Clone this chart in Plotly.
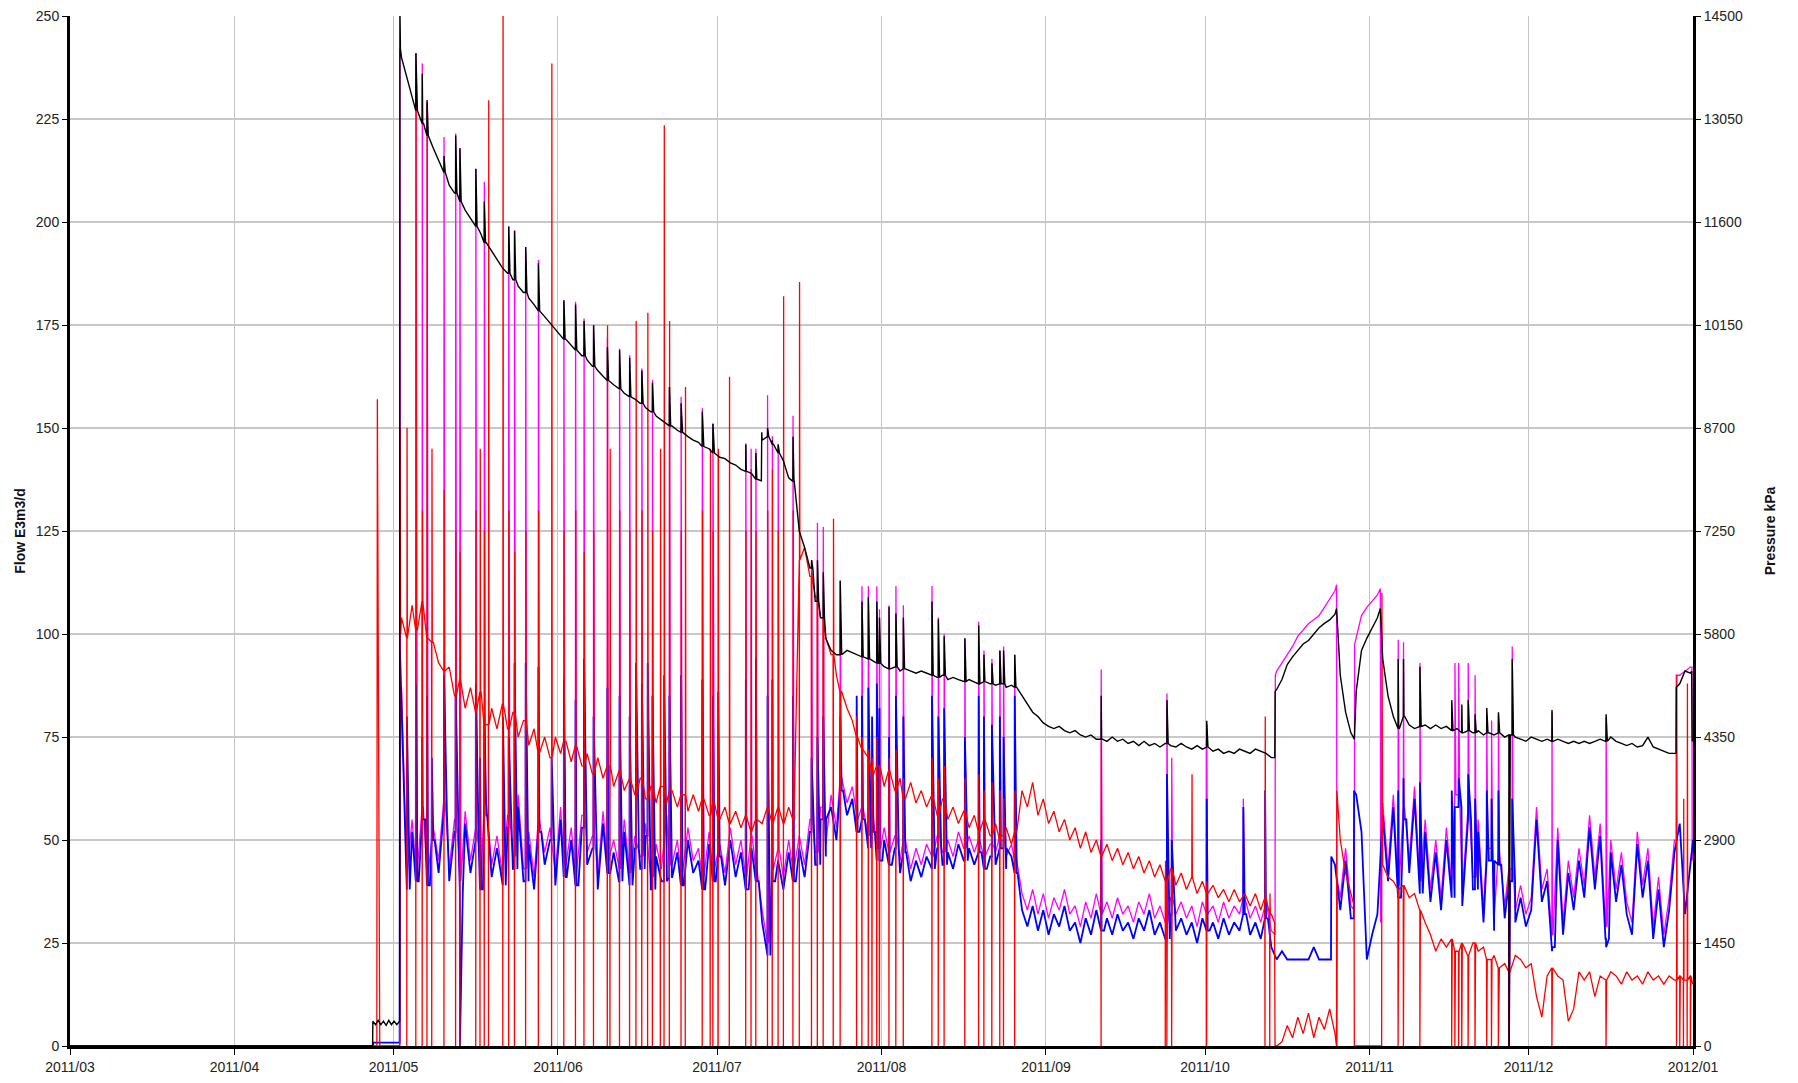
import pandas as pd
import plotly.graph_objects as go

START = pd.Timestamp("2011-05-01")   # day 0 of the day offsets below
N_DAYS = 244                          # daily samples at noon, 2011-05-02 .. 2011-12-31

X_TICK_START = "2011-03-01"
X_TICK_END = "2012-01-01"
FLOW_MAX = 250
PRESSURE_MAX = 14500

# ---------------- daily values (index k = 1..244, sample time = May 1 + k + 0.5 d) ----------------
# Flow (red), E3m3/d
RED_DAILY = [
    104, 99, 107, 101, 108, 99, 98, 93, 91, 92,
    85, 89, 82, 87, 81, 86, 78, 82, 77, 83,
    77, 81, 75, 79, 73, 77, 71, 75, 70, 75,
    71, 74, 69, 73, 68, 71, 66, 70, 65, 68,
    63, 67, 62, 65, 61, 65, 60, 63, 59, 63,
    59, 62, 58, 61, 57, 61, 57, 60, 56, 59,
    55, 58, 54, 57, 53, 56, 52, 55, 54, 58,
    54, 58, 54, 58, 55, 118, 121, 114, 109, 104,
    99, 95, 90, 86, 82, 79, 75, 72, 70, 66,
    68, 63, 67, 62, 65, 60, 64, 59, 62, 58,
    61, 56, 60, 55, 58, 54, 57, 53, 56, 52,
    55, 51, 54, 50, 53, 49, 52, 62, 58, 64,
    56, 60, 54, 57, 52, 55, 50, 53, 48, 52,
    47, 50, 46, 49, 45, 48, 44, 47, 43, 46,
    42, 45, 41, 44, 40, 43, 39, 42, 38, 41,
    37, 40, 37, 39, 36, 38, 35, 38, 35, 37,
    34, 37, 33, 36, 32, 0, 1, 5, 2, 7,
    3, 8, 2, 7, 4, 9, 3, 50, 42, 37,
    0, 0, 0, 0, 0, 44, 41, 40, 38, 39,
    36, 37, 33, 30, 27, 23, 26, 24, 26, 23,
    25, 22, 25, 23, 24, 21, 22, 19, 20, 18,
    22, 21, 19, 20, 12, 7, 17, 19, 17, 16,
    6, 9, 18, 16, 18, 12, 17, 16, 18, 17,
    15, 18, 16, 17, 15, 18, 16, 17, 15, 17,
    16, 17, 16, 17,
]

# Blue series, E3m3/d
BLUE_DAILY = [
    84, 38, 52, 40, 55, 39, 50, 42, 57, 40,
    52, 37, 54, 42, 50, 38, 56, 41, 48, 39,
    53, 43, 58, 40, 49, 38, 52, 44, 50, 39,
    55, 41, 50, 39, 53, 44, 48, 38, 54, 42,
    47, 40, 52, 39, 48, 43, 51, 38, 46, 40,
    53, 41, 47, 39, 50, 42, 45, 38, 49, 40,
    46, 39, 50, 41, 47, 38, 48, 40, 30, 22,
    40, 45, 38, 47, 40, 48, 41, 52, 44, 55,
    46, 58, 50, 62, 56, 60, 52, 55, 48, 52,
    45, 50, 44, 48, 42, 47, 40, 45, 41, 46,
    43, 48, 44, 47, 43, 49, 45, 48, 44, 47,
    43, 46, 44, 48, 43, 46, 42, 33, 29, 34,
    28, 33, 27, 32, 29, 34, 28, 30, 25, 31,
    27, 33, 28, 31, 27, 32, 28, 30, 26, 31,
    28, 33, 27, 30, 26, 32, 28, 31, 27, 30,
    25, 31, 28, 30, 26, 31, 27, 30, 28, 32,
    27, 30, 26, 31, 24, 21, 23, 21, 21, 21,
    21, 21, 24, 21, 21, 21, 44, 33, 45, 31,
    61, 52, 21, 27, 32, 56, 40, 58, 36, 55,
    42, 60, 37, 52, 35, 47, 33, 50, 36, 58,
    34, 55, 38, 52, 30, 45, 28, 44, 31, 40,
    30, 36, 29, 33, 55, 35, 40, 24, 50, 27,
    42, 33, 45, 36, 53, 38, 51, 26, 47, 35,
    44, 32, 27, 49, 36, 45, 26, 38, 24, 33,
    47, 54, 32, 45,
]

# Magenta series, E3m3/d scale
MAGENTA_DAILY = [
    87, 41, 55, 43, 58, 42, 53, 45, 60, 43,
    55, 40, 57, 45, 53, 41, 59, 44, 51, 42,
    56, 46, 61, 43, 52, 41, 55, 47, 53, 42,
    58, 44, 53, 42, 56, 47, 51, 41, 57, 45,
    50, 43, 55, 42, 51, 46, 54, 41, 49, 43,
    56, 44, 50, 42, 53, 45, 48, 41, 52, 43,
    49, 42, 53, 44, 50, 41, 51, 43, 33, 25,
    43, 48, 41, 50, 43, 51, 44, 55, 47, 58,
    49, 61, 53, 65, 59, 63, 55, 58, 51, 55,
    48, 53, 47, 51, 45, 50, 43, 48, 44, 49,
    46, 51, 47, 50, 46, 52, 48, 51, 47, 50,
    46, 49, 47, 51, 46, 49, 45, 37, 33, 38,
    32, 37, 31, 36, 33, 38, 32, 34, 29, 35,
    31, 37, 32, 35, 31, 36, 32, 34, 30, 35,
    32, 37, 31, 34, 30, 36, 32, 35, 31, 34,
    29, 35, 32, 34, 30, 35, 31, 34, 32, 36,
    31, 34, 30, 35, 28, 91, 93, 95, 97, 99.5,
    101, 102.5, 103.5, 104.5, 106.5, 108.5, 110.5, 36, 48, 34,
    99, 104.5, 106.5, 108, 109.5, 59, 43, 61, 39, 58,
    45, 63, 40, 55, 38, 50, 36, 53, 39, 61,
    37, 58, 41, 55, 33, 48, 31, 47, 34, 43,
    33, 39, 32, 36, 58, 38, 43, 27, 53, 30,
    45, 36, 48, 39, 56, 41, 54, 29, 50, 38,
    47, 35, 30, 52, 39, 48, 29, 41, 27, 36,
    50, 90, 91, 92,
]

# Black series, pressure kPa
BLACK_DAILY_KPA = [
    13920, 13630, 13340, 13170, 12990, 12820, 12640, 12470, 12300, 12120,
    12010, 11890, 11770, 11660, 11540, 11430, 11310, 11190, 11080, 10960,
    10880, 10790, 10700, 10610, 10530, 10440, 10350, 10270, 10180, 10090,
    10010, 9950, 9860, 9800, 9720, 9660, 9570, 9510, 9430, 9370,
    9310, 9250, 9190, 9140, 9110, 9050, 8990, 8930, 8870, 8820,
    8760, 8730, 8670, 8640, 8580, 8530, 8500, 8440, 8410, 8350,
    8290, 8270, 8210, 8180, 8120, 8090, 8060, 7980, 8530, 8580,
    8470, 8350, 8240, 8000, 7950, 7250, 7020, 6730, 6260, 6030,
    5740, 5570, 5510, 5510, 5570, 5540, 5510, 5480, 5450, 5420,
    5390, 5340, 5310, 5340, 5280, 5310, 5280, 5250, 5280, 5250,
    5220, 5190, 5220, 5160, 5190, 5160, 5130, 5160, 5130, 5100,
    5130, 5100, 5080, 5100, 5050, 5080, 5050, 4930, 4810, 4700,
    4640, 4550, 4500, 4470, 4500, 4440, 4410, 4440, 4380, 4350,
    4380, 4320, 4320, 4290, 4350, 4290, 4320, 4260, 4290, 4230,
    4290, 4230, 4260, 4210, 4260, 4230, 4210, 4260, 4210, 4180,
    4230, 4180, 4210, 4150, 4180, 4120, 4150, 4120, 4180, 4150,
    4120, 4180, 4150, 4120, 4060, 5020, 5160, 5370, 5480, 5570,
    5660, 5710, 5800, 5890, 5950, 6000, 6080, 5220, 4700, 4410,
    4990, 5570, 5740, 5890, 6030, 5450, 4930, 4640, 4470, 4640,
    4520, 4470, 4500, 4520, 4470, 4520, 4470, 4500, 4440, 4470,
    4410, 4440, 4410, 4440, 4380, 4410, 4380, 4410, 4350, 4380,
    4350, 4320, 4290, 4350, 4320, 4290, 4320, 4290, 4320, 4290,
    4260, 4290, 4260, 4290, 4260, 4290, 4320, 4290, 4350, 4290,
    4260, 4230, 4260, 4210, 4230, 4350, 4210, 4180, 4150, 4120,
    4120, 5100, 5280, 5250,
]

# ---------------- extra read-off points (day offset from May 1, value) ----------------
RED_EXTRA_DAYS = [-61, -3.15, -3.05, -2.6, 1.15, 1.22, 1.35, 166.1, 166.2, 177.78, 177.85,
                  181.1, 181.15, 186.3, 186.35, 244.95]
RED_EXTRA_VALS = [0, 0, 157, 0, 0, 150, 100, 30, 0, 0, 62, 34, 0, 0, 110, 15]

BLUE_EXTRA_DAYS = [-61, -3.9, -3.85, 1.15, 1.22, 176.75, 176.8, 181.05, 181.1, 245.0]
BLUE_EXTRA_VALS = [0, 0, 0.8, 0.8, 96, 21, 46, 31, 62, 50]

MAGENTA_EXTRA_DAYS = [-61, 1.18, 1.2, 1.3, 166.2, 166.25, 177.8, 177.88, 177.95,
                      181.15, 181.2, 186.05, 186.1, 241.8, 241.85, 244.8, 244.85, 245.0]
MAGENTA_EXTRA_VALS = [0, 0, 242, 70, 27, 90, 112, 0, 40, 33, 97.5, 111, 30, 50, 90, 92, 45, 48]

BLACK_EXTRA_DAYS = [-61, -3.95, -3.9, -3.4, -2.9, -2.4, -1.9, -1.4, -0.9, -0.4, 0.1, 0.6, 1.15, 1.2, 1.3,
                    69.35, 69.42, 166.15, 166.22, 177.8, 181.15, 186.05, 241.8, 241.85,
                    244.75, 244.85, 245.0]
BLACK_EXTRA_KPA = [0, 0, 350, 300, 360, 300, 350, 290, 360, 300, 350, 300, 350, 14620, 14040,
                   7960, 8640, 4060, 4990, 6160, 4320, 6160, 4120, 5050,
                   5280, 4290, 4320]

# ---------------- shut-in / cycling events ----------------
EV_DAY = [2.5, 4.2, 5.4, 6.3, 7.2, 9.5, 11.7, 12.5, 15.5, 16.3, 17.1, 17.9, 20.6, 21.7, 22.8, 24.9,
          27.3, 29.8, 32.1, 34.3, 35.9, 37.7, 40.3, 40.8, 42.6, 44.5, 45.7, 46.8, 47.9, 48.8, 50.3,
          51.0, 52.0, 54.2, 55.0, 58.2, 59.7, 60.2, 61.2, 63.3, 66.4, 67.4, 68.3, 70.5, 71.4, 72.5,
          73.5, 75.3, 76.5,
          78.8, 79.9, 81.0, 82.9, 84.2, 87.3, 88.3, 89.5, 90.2, 91.1, 91.6, 93.4, 94.7, 96.1, 101.5,
          102.7, 103.8, 107.7, 110.3, 111.3, 112.8, 114.3, 115.0, 117.1,
          133.4, 145.5, 145.8, 146.7, 150.5, 153.3, 160.2, 164.3, 165.2,
          189.4, 190.4, 193.5, 199.5, 200.1, 200.8, 201.4, 202.6, 203.9, 206.1, 207.0, 208.3,
          210.3, 210.9, 218.4, 228.6, 241.9, 242.5, 243.2, 243.9, 244.5]
EV_RED_LO = [0] * 73 + [0, 0, 0, 0, None, 0, None, 0, 0] + [0] * 12 + [0, None, 0, 0, 0, 0, 0, 0, 0]
EV_RED_HI = [150, 229, 130, 229, 145, 135, 125, 120, 130, 145, 125, 229.6, 255, 130, 120, 125,
             130, 238.5, 125, 130, 120, 125, 175, 145, 130, 125, 176, 130, 178, 125, 145,
             223.5, 176, 125, 160, 130, 145, 125, 145, 162.5, 125, 140, 125, 130, 140, 125,
             182, 130, 185.5,
             115, 110, 100, 128, 85, 80, 75, 72, 70, 75, 68, 70, 72, 65, 70,
             65, 68, 65, 66, 62, 64, 62, 60, 62,
             74, 45, None, 40, 66, 40, None, 80, 37,
             None, None, None, None, None, None, None, None, None, None, None, None,
             62, None, None, None, 90, None, 60, 88, None]
EV_MAG = [None, 241, 238.5, 229, None, 220.7, 221.5, 218, 213, None, 209.8, None, None, 199, 198, 194,
          190.8, None, 181, 180.7, 176.6, 175, 172, None, 169.3, 167.7, None, 164.5, None, 161.7, None,
          None, 160, 157.6, None, 154.8, None, 151.1, None, None, 146.3, 145, 145, 158, 148, 146,
          None, 153, None,
          118, 127, 126, None, 113, None, 111.6, 111.6, None, 111.6, 106, 107, 111.7, 107, 111.7,
          104, 100, 99, 103, 96, 94, 96, 97, 95,
          91.4, None, 85.6, 70, None, 78, 60, None, None,
          98.6, 98, 93, None, 93, 93, None, 93, 90, 80, 79, 80,
          0, 97, 81, 80, None, None, None, None, None]
EV_BLK_KPA = [None, 13980, 13690, 13320, None, 12530, 12820, 12640, 12350, None, 11890, None, None,
              11540, 11480, 11250, 11020, None, 10500, 10440, 10210, 10150, 9840, None, 9800, 9690,
              None, 9510, None, 9340, None, None, 9280, 9050, None, 8930, None, 8760, None, None,
              8470, None, 8350, 8700, 8530, 8470, None, 8580, None,
              6840, 6840, 6670, None, 6550, None, 6260, 6320, None, 6260, 6030, 6180, 6090, 6030, 6260,
              6010, 5770, 5740, 5920, 5510, 5390, 5570, 5570, 5510,
              4930, None, 4870, None, None, 4580, None, None, None,
              5450, 5450, 5340, 4870, None, None, 4810, 4870, 4670, 4760, None, 4700,
              0, 5450, 4730, 4670, None, None, None, None, None]
EV_BLU = [80, 88, 75, 85, 70, 90, 85, 0, 88, 70, 80, None, 80, 75, 93, 93,
          92, 70, 89, 84, 94, 80, 87, None, 85, 80, 93, 88, 93, 85, None,
          90, 85, 90, None, 89, None, 85, 86, None, 89, None, 94, 85, 89, None,
          None, 85, None,
          70, 75, 80, None, 80, 85, 85, 87, 80, 88, 82, 75, 85, 80, 85,
          80, 82, 75, 85, 80, 78, 80, 75, 85,
          50, None, 66, 50, None, 60, 58, 62, None,
          62, 65, 64, 62, 58, 65, None, 66, 60, 62, 60, 62,
          0, 60, 23, 24, None, None, None, None, None]

# ---------------- assemble traces ----------------
DAY_T = [k + 0.5 for k in range(1, N_DAYS + 1)]


def base_at(daily, t):
    k = min(max(int(round(t - 0.5)), 1), N_DAYS)
    return daily[k - 1]


def red_spike_points():
    pts = []
    for t, lo, hi in zip(EV_DAY, EV_RED_LO, EV_RED_HI):
        if lo is None and hi is None:
            continue
        b = base_at(RED_DAILY, t)
        pts.append((t - 0.03, b))
        if lo is not None:
            pts.append((t, lo))
        if hi is not None:
            pts.append((t + 0.05, hi))
        pts.append((t + 0.11, b))
    return pts


def simple_spike_points(daily, vals, decay=0.12):
    pts = []
    for t, v in zip(EV_DAY, vals):
        if v is None:
            continue
        b = base_at(daily, t)
        pts += [(t - 0.01, b), (t + 0.02, v), (t + decay, b)]
    return pts


def merge(daily, extra_d, extra_v, spikes):
    pts = list(zip(DAY_T, daily)) + list(zip(extra_d, extra_v)) + spikes
    pts.sort(key=lambda p: p[0])
    xs = [START + pd.Timedelta(days=float(d)) for d, _ in pts]
    ys = [v for _, v in pts]
    return xs, ys


mx, my = merge(MAGENTA_DAILY, MAGENTA_EXTRA_DAYS, MAGENTA_EXTRA_VALS,
               simple_spike_points(MAGENTA_DAILY, EV_MAG, decay=0.2))
bx, by = merge(BLUE_DAILY, BLUE_EXTRA_DAYS, BLUE_EXTRA_VALS,
               simple_spike_points(BLUE_DAILY, EV_BLU, decay=0.55))
rx, ry = merge(RED_DAILY, RED_EXTRA_DAYS, RED_EXTRA_VALS, red_spike_points())
kx, ky = merge(BLACK_DAILY_KPA, BLACK_EXTRA_DAYS, BLACK_EXTRA_KPA,
               simple_spike_points(BLACK_DAILY_KPA, EV_BLK_KPA, decay=0.25))

fig = go.Figure()
fig.add_trace(go.Scatter(x=mx, y=my, mode="lines", line=dict(color="#ff00ff", width=1.3),
                         name="magenta", yaxis="y"))
fig.add_trace(go.Scatter(x=bx, y=by, mode="lines", line=dict(color="#0000ff", width=1.8),
                         name="blue", yaxis="y"))
fig.add_trace(go.Scatter(x=rx, y=ry, mode="lines", line=dict(color="#ff0000", width=1.3),
                         name="Flow", yaxis="y"))
fig.add_trace(go.Scatter(x=kx, y=ky, mode="lines", line=dict(color="#000000", width=1.4),
                         name="Pressure", yaxis="y2"))

tick_font = dict(family="Liberation Sans, Arial, sans-serif", size=14, color="#222222")
title_font = dict(family="Liberation Sans, Arial, sans-serif", size=14, color="#111111")

# tiny headroom so the top tick (250 / 14500) and its grid line are kept
HEAD = 1.0002

# page body has an 8px margin: figure sized so that the page fills the 1798x1083 window
fig.update_layout(
    width=1782, height=1067,
    margin=dict(l=62, r=97, t=8, b=29, autoexpand=False),
    paper_bgcolor="white", plot_bgcolor="white",
    showlegend=False,
    xaxis=dict(
        type="date", range=[X_TICK_START, X_TICK_END],
        tick0=X_TICK_START, dtick="M1", tickformat="%Y/%m",
        showgrid=True, gridcolor="#c4c4c4", gridwidth=1,
        showline=True, linecolor="black", linewidth=3,
        ticks="outside", ticklen=6, tickcolor="black", tickwidth=1,
        tickfont=tick_font, zeroline=False, automargin=False,
        ticklabeloverflow="allow",
    ),
    yaxis=dict(
        range=[0, FLOW_MAX * HEAD], tick0=0, dtick=25,
        showgrid=True, gridcolor="#c8c8c8", gridwidth=2,
        showline=True, linecolor="black", linewidth=3,
        ticks="outside", ticklen=5, tickcolor="black",
        tickfont=tick_font, zeroline=False, automargin=False,
        ticklabeloverflow="allow",
        title=dict(text="<b>Flow E3m3/d</b>", font=title_font, standoff=7),
    ),
    yaxis2=dict(
        overlaying="y", side="right", anchor="x",
        range=[0, PRESSURE_MAX * HEAD], tick0=0, dtick=1450, tickformat="d",
        showgrid=False,
        showline=True, linecolor="black", linewidth=3,
        ticks="outside", ticklen=5, tickcolor="black",
        tickfont=tick_font, zeroline=False, automargin=False,
        ticklabeloverflow="allow",
        title=dict(text="<b>Pressure kPa</b>", font=title_font, standoff=24),
    ),
)

fig.write_html("out.html")
